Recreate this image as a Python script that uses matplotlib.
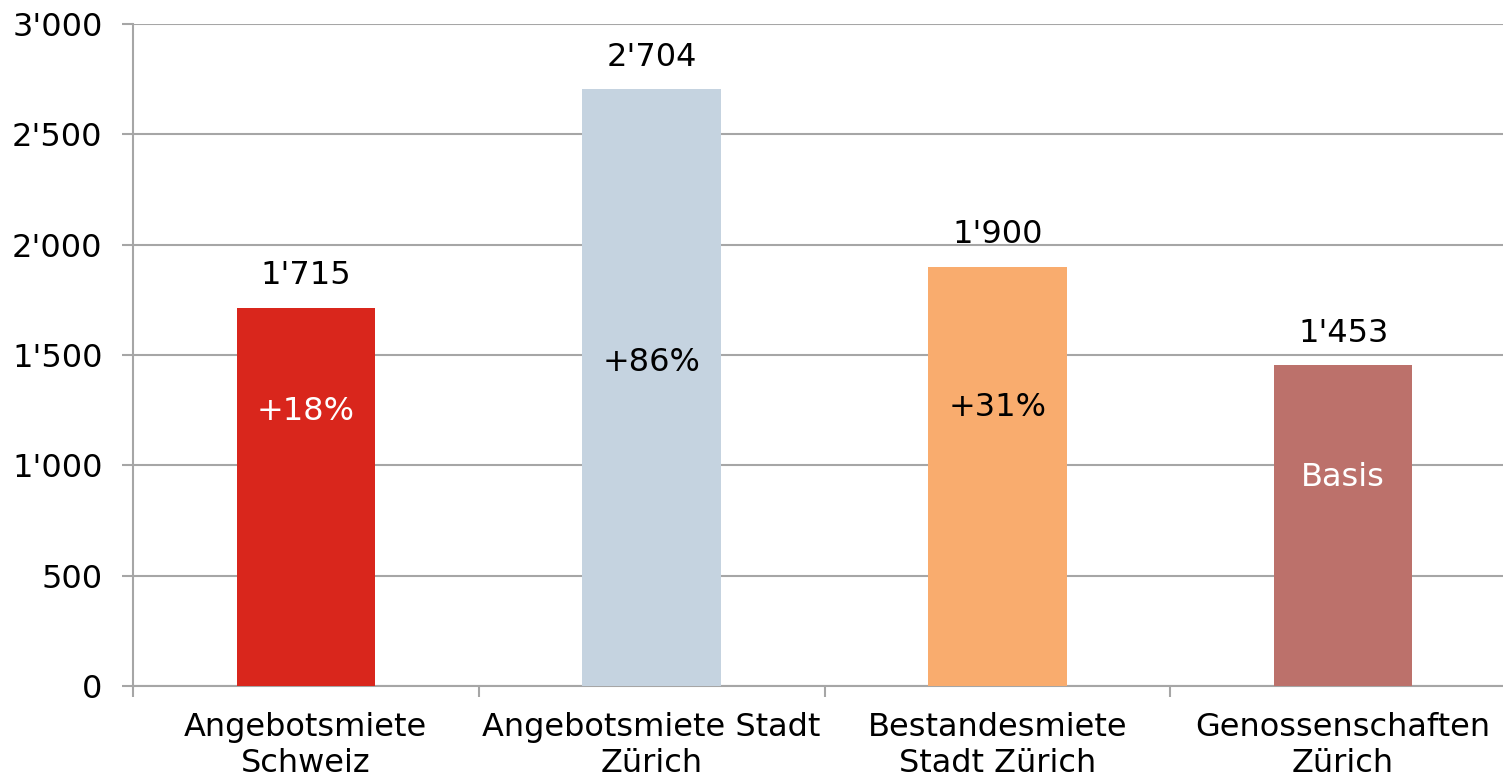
import matplotlib.pyplot as plt
from matplotlib.ticker import FuncFormatter

categories = ["Angebotsmiete\nSchweiz", "Angebotsmiete Stadt\nZürich",
              "Bestandesmiete\nStadt Zürich", "Genossenschaften\nZürich"]
rents = [1715, 2704, 1900, 1453]
inner_labels = ["+18%", "+86%", "+31%", "Basis"]

colors = ["#D9261C", "#C5D3E0", "#F9AC6E", "#BC716B"]
inner_colors = ["white", "black", "black", "white"]
inner_y = [1242, 1468, 1264, 943]  # where the percent labels sit

GRID = "#A6A6A6"
FS = 23


def fmt(v, pos=None):
    return f"{int(v):,}".replace(",", "'")


plt.rcParams['font.family'] = ['DejaVu Sans']
fig = plt.figure(figsize=(15.03, 7.79), dpi=100)
ax = fig.add_axes([133 / 1503, 1 - 686 / 779, 1383 / 1503, 662 / 779])

x = list(range(len(categories)))
ax.bar(x, rents, width=0.4, color=colors, zorder=3)

for i, v in enumerate(rents):
    ax.annotate(fmt(v), xy=(i, v), xytext=(0, 12), textcoords="offset points",
                ha="center", va="bottom", fontsize=FS, zorder=4)
    ax.text(i, inner_y[i], inner_labels[i], ha="center", va="center",
            fontsize=FS, color=inner_colors[i], zorder=4)

ax.set_xlim(-0.5, 3.5)
ax.set_ylim(0, 3000)
ax.set_yticks(range(0, 3001, 500))
ax.yaxis.set_major_formatter(FuncFormatter(fmt))
ax.grid(axis="y", color=GRID, linewidth=1.5, zorder=0)

# boundary ticks on x, labels at the bar centres
ax.set_xticks([-0.5, 0.5, 1.5, 2.5, 3.5])
ax.set_xticklabels([])
ax.set_xticks(x, minor=True)
ax.set_xticklabels(categories, minor=True, fontsize=FS)
ax.tick_params(axis="x", which="major", length=8, width=1.5, color=GRID)
ax.tick_params(axis="x", which="minor", length=0, pad=19)
ax.tick_params(axis="y", length=8, width=1.5, color=GRID, labelsize=FS, pad=14)

for side in ["top", "right"]:
    ax.spines[side].set_visible(False)
for side in ["left", "bottom"]:
    ax.spines[side].set_color(GRID)
    ax.spines[side].set_linewidth(1.5)

fig.savefig("out.png", dpi=100)
